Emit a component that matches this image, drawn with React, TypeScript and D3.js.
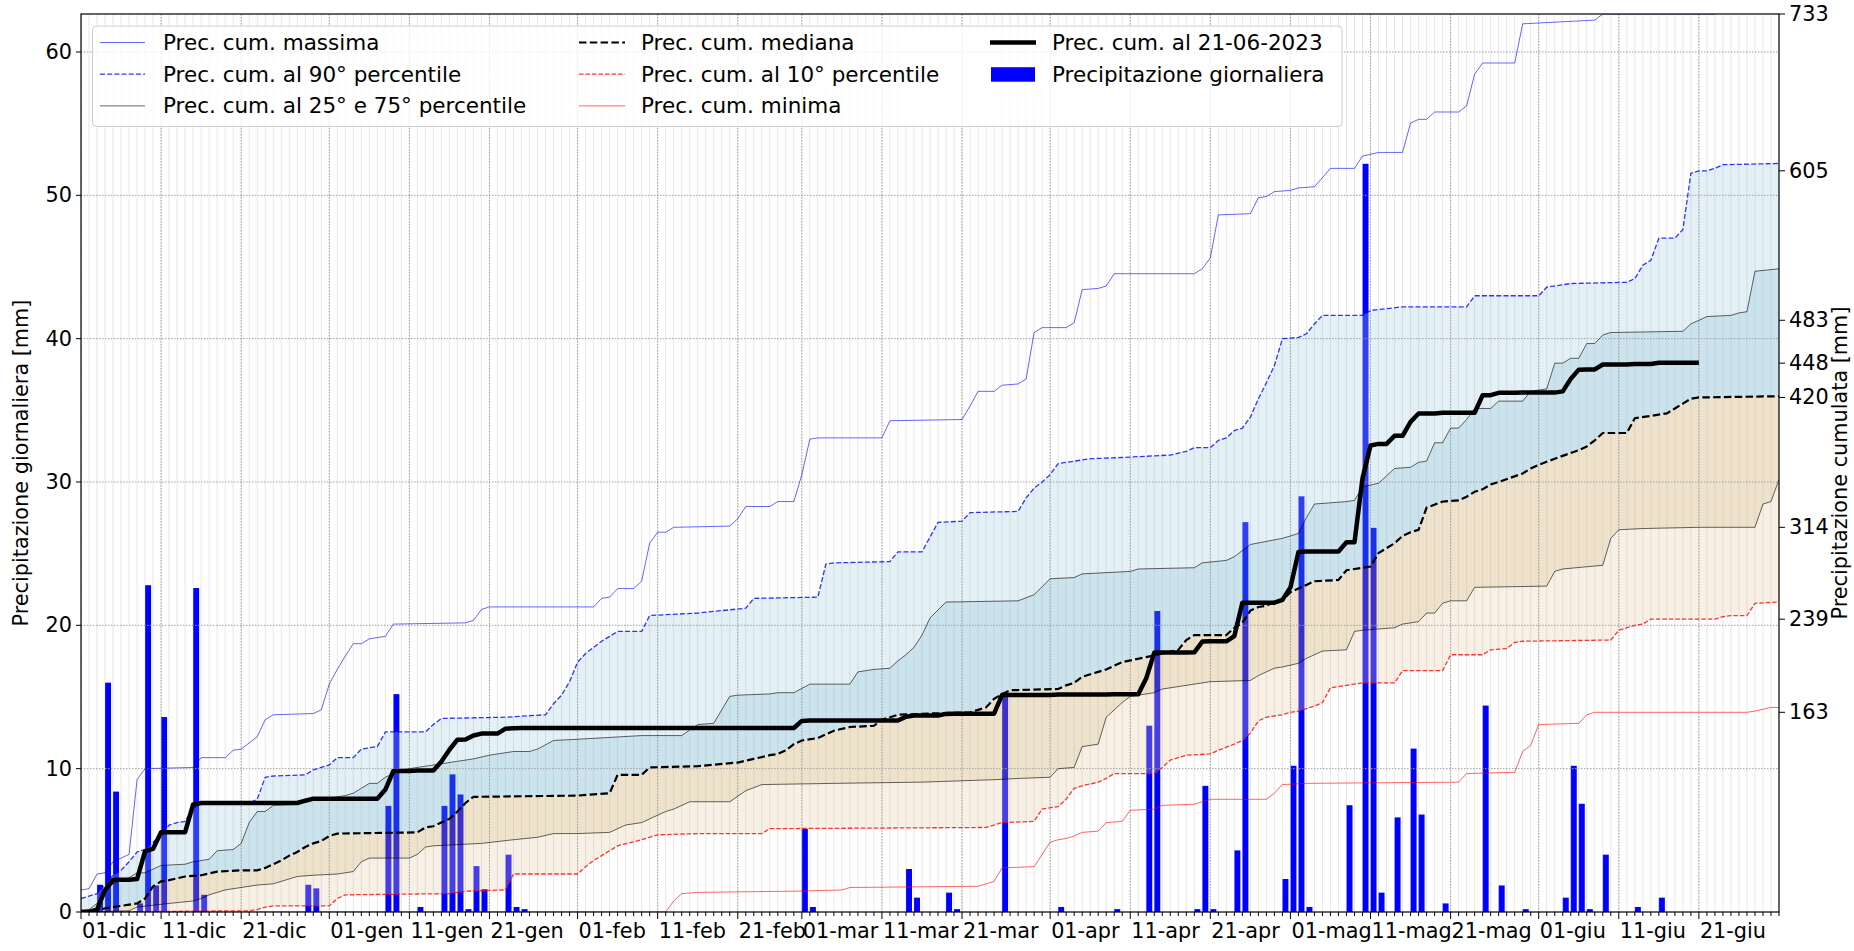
import * as d3 from 'd3';

const W = 1854;
const H = 951;
const PL = 81, PR = 1779, PT = 14, PB = 912;

const START = new Date(2022, 11, 1);
const LAST_DAY = 212; // 01-lug
const CUR_END = 202; // 21-giu
const MESI = ['gen', 'feb', 'mar', 'apr', 'mag', 'giu', 'lug', 'ago', 'set', 'ott', 'nov', 'dic'];

// [giorno dal 01-dic, mm]
const precGiornaliera: [number, number][] = [
  [2, 1.9], [3, 16.0], [4, 8.4], [7, 0.6], [8, 22.8], [9, 1.85], [10, 13.6], [14, 22.6], [15, 1.2],
  [28, 1.9], [29, 1.65], [38, 7.4], [39, 15.2], [42, 0.35], [45, 7.4], [46, 9.6], [47, 8.2], [48, 0.2],
  [49, 3.2], [50, 1.6], [53, 4.0], [54, 0.35], [55, 0.2], [90, 5.8], [91, 0.35], [103, 3.0], [104, 1.0],
  [108, 1.35], [109, 0.2], [115, 15.3], [122, 0.35], [129, 0.2], [133, 13.0], [134, 21.0], [139, 0.2],
  [140, 8.8], [141, 0.2], [144, 4.3], [145, 27.2], [150, 2.3], [151, 10.2], [152, 29.0], [153, 0.35],
  [158, 7.45], [160, 52.2], [161, 26.8], [162, 1.35], [164, 6.6], [166, 11.4], [167, 6.8], [170, 0.6],
  [175, 14.4], [177, 1.85], [180, 0.2], [185, 1.0], [186, 10.2], [187, 7.55], [188, 0.2], [190, 4.0],
  [194, 0.35], [197, 1.0],
];

const cumMassima: [number, number][] = [
  [0, 18], [1, 19], [2, 31], [3, 32], [4, 41], [5, 44], [6, 47], [7, 108], [8, 117], [14, 118], [15, 126],
  [18, 126], [19, 132], [20, 133], [21, 138], [22, 143], [23, 157], [24, 161], [29, 162], [30, 165],
  [31, 186], [32, 198], [33, 209], [34, 219], [35, 219], [36, 223], [38, 225], [39, 235], [48, 236],
  [49, 238], [50, 247], [51, 249], [64, 249], [65, 256], [66, 257], [67, 264], [69, 264], [70, 270],
  [71, 301], [72, 310], [73, 310], [74, 314], [81, 315], [82, 321], [83, 331], [86, 331], [87, 335],
  [89, 335], [90, 357], [91, 386], [92, 387], [100, 387], [101, 401], [110, 402], [111, 413], [112, 425],
  [114, 425], [115, 430], [117, 431], [118, 435], [119, 473], [120, 477], [123, 477], [124, 481],
  [125, 508], [127, 509], [128, 511], [129, 521], [139, 521], [140, 525], [141, 534], [142, 569],
  [146, 570], [147, 583], [148, 584], [149, 588], [151, 589], [152, 591], [154, 592], [156, 607],
  [159, 607], [160, 617], [162, 620], [165, 620], [166, 644], [167, 647], [168, 647], [169, 653],
  [172, 653], [173, 658], [174, 684], [175, 693], [179, 693], [180, 725], [189, 728], [190, 733], [204, 733],
];

const cum90: [number, number][] = [
  [0, 11], [1, 13], [2, 15], [3, 22], [4, 30], [5, 34], [6, 41], [7, 49], [8, 51], [9, 57], [10, 63],
  [11, 71], [12, 73], [13, 74], [14, 85], [15, 88], [21, 89], [22, 92], [23, 110], [24, 111], [28, 112],
  [29, 116], [30, 118], [31, 120], [32, 126], [34, 126], [35, 133], [37, 135], [38, 147], [43, 147],
  [44, 153], [45, 158], [53, 159], [58, 161], [59, 170], [60, 177], [61, 188], [62, 204], [63, 211],
  [64, 216], [65, 221], [66, 225], [67, 229], [70, 229], [71, 242], [77, 244], [83, 248], [84, 256],
  [92, 257], [93, 284], [94, 285], [101, 286], [102, 294], [105, 294], [107, 318], [110, 319], [111, 326],
  [117, 327], [118, 338], [119, 346], [120, 351], [121, 357], [122, 366], [123, 367], [126, 370],
  [130, 371], [133, 372], [136, 373], [138, 376], [139, 379], [141, 379], [142, 385], [143, 387],
  [144, 393], [145, 395], [146, 404], [147, 419], [148, 432], [149, 446], [150, 468], [152, 469],
  [153, 472], [154, 480], [155, 487], [160, 487], [161, 491], [165, 494], [173, 494], [174, 503],
  [182, 503], [183, 510], [186, 513], [193, 514], [194, 517], [195, 528], [196, 532], [197, 550],
  [199, 550], [200, 557], [201, 603], [202, 605], [203, 605], [204, 607], [205, 610], [212, 611],
];

const cum75: [number, number][] = [
  [0, 1], [1, 2], [2, 7], [3, 16], [4, 23], [5, 26], [6, 28], [7, 32], [8, 32], [9, 35], [10, 38],
  [13, 39], [14, 41], [15, 42], [16, 43], [17, 50], [19, 51], [20, 56], [21, 73], [22, 82], [23, 82],
  [24, 87], [27, 88], [28, 90], [30, 92], [32, 94], [33, 95], [34, 97], [35, 101], [36, 105], [37, 105],
  [38, 110], [39, 113], [40, 116], [41, 117], [43, 119], [45, 121], [47, 123], [49, 125], [51, 128],
  [54, 131], [56, 131], [57, 133], [59, 140], [62, 141], [70, 144], [75, 144], [77, 153], [79, 154],
  [81, 176], [82, 177], [86, 178], [87, 179], [89, 179], [91, 186], [96, 186], [97, 196], [99, 198],
  [101, 199], [102, 205], [103, 210], [104, 216], [105, 226], [106, 240], [108, 253], [117, 254],
  [119, 259], [121, 272], [124, 273], [125, 276], [131, 278], [132, 280], [139, 281], [140, 285],
  [143, 287], [144, 290], [145, 295], [146, 300], [150, 305], [152, 309], [153, 322], [154, 333],
  [158, 335], [159, 336], [160, 347], [162, 350], [163, 356], [164, 362], [166, 363], [167, 367],
  [168, 368], [169, 383], [170, 383], [171, 395], [172, 395], [173, 402], [174, 411], [176, 411],
  [177, 417], [180, 417], [181, 425], [182, 426], [183, 427], [184, 448], [185, 448], [186, 452],
  [187, 452], [188, 464], [189, 464], [190, 471], [191, 473], [200, 474], [201, 480], [202, 483],
  [203, 486], [206, 487], [207, 489], [208, 490], [209, 523], [212, 525],
];

const cumMediana: [number, number][] = [
  [0, 1], [2, 1], [3, 3], [6, 6], [7, 7], [8, 11], [9, 21], [10, 25], [11, 26], [13, 29], [15, 30],
  [17, 33], [20, 34], [22, 34], [23, 36], [24, 39], [25, 42], [26, 46], [27, 49], [28, 53], [29, 56],
  [30, 58], [31, 62], [32, 64], [42, 65], [43, 69], [44, 70], [45, 73], [46, 76], [47, 82], [48, 89],
  [49, 94], [62, 95], [66, 97], [67, 112], [70, 112], [71, 118], [77, 119], [82, 122], [84, 125],
  [86, 128], [87, 129], [88, 132], [89, 137], [90, 140], [92, 142], [93, 145], [94, 148], [96, 151],
  [99, 152], [100, 157], [102, 161], [106, 162], [111, 163], [112, 165], [113, 167], [114, 174],
  [115, 178], [116, 181], [122, 182], [123, 185], [124, 187], [125, 192], [127, 196], [128, 198],
  [129, 201], [130, 204], [133, 208], [137, 214], [138, 222], [139, 226], [143, 226], [144, 232],
  [145, 236], [146, 246], [147, 249], [148, 250], [149, 253], [150, 254], [151, 261], [152, 264],
  [153, 267], [154, 270], [157, 271], [158, 279], [161, 282], [162, 293], [163, 297], [164, 301],
  [165, 307], [166, 310], [167, 312], [168, 330], [170, 335], [172, 336], [173, 339], [174, 343],
  [175, 345], [176, 349], [177, 351], [180, 358], [181, 362], [182, 365], [184, 370], [187, 377],
  [188, 380], [189, 385], [190, 391], [193, 391], [194, 403], [198, 407], [199, 411], [200, 415],
  [201, 419], [202, 420], [212, 421],
];

const cum25: [number, number][] = [
  [0, 0], [6, 1], [7, 4], [11, 7], [14, 9], [15, 11], [16, 14], [18, 18], [20, 20], [22, 22], [24, 23],
  [25, 25], [26, 27], [27, 29], [29, 30], [32, 31], [34, 33], [35, 41], [36, 44], [41, 44], [42, 47],
  [43, 53], [44, 54], [50, 56], [54, 59], [57, 61], [59, 64], [62, 64], [66, 65], [68, 71], [70, 73],
  [72, 79], [73, 82], [74, 84], [76, 90], [81, 90], [83, 99], [85, 104], [94, 105], [105, 106],
  [114, 108], [117, 109], [121, 110], [122, 117], [124, 118], [125, 135], [127, 137], [128, 159],
  [129, 165], [130, 171], [131, 176], [134, 179], [135, 182], [141, 188], [146, 189], [147, 193],
  [148, 196], [149, 199], [150, 200], [152, 203], [153, 207], [155, 213], [158, 214], [159, 229],
  [160, 230], [164, 232], [165, 235], [167, 237], [168, 244], [169, 244], [170, 252], [171, 254],
  [173, 254], [174, 265], [183, 266], [184, 278], [185, 280], [190, 283], [191, 305], [192, 312],
  [195, 313], [202, 314], [209, 314], [210, 333], [211, 335], [212, 353],
];

const cum10: [number, number][] = [
  [0, 0], [21, 1], [22, 2], [23, 4], [24, 5], [31, 5], [32, 11], [33, 14], [46, 15], [47, 16], [48, 17],
  [53, 18], [54, 31], [62, 31], [63, 37], [64, 42], [65, 46], [66, 50], [67, 54], [70, 59], [71, 61],
  [72, 63], [77, 64], [85, 64], [86, 68], [113, 69], [114, 71], [115, 73], [119, 74], [120, 84],
  [122, 86], [123, 92], [124, 101], [125, 103], [127, 106], [128, 109], [129, 113], [134, 113],
  [135, 118], [136, 124], [138, 128], [141, 129], [142, 132], [144, 137], [145, 140], [146, 146],
  [147, 156], [148, 159], [150, 161], [151, 163], [152, 164], [154, 168], [155, 171], [156, 183],
  [160, 187], [164, 187], [165, 197], [170, 197], [171, 210], [175, 210], [176, 214], [178, 215],
  [179, 220], [180, 221], [191, 222], [192, 230], [194, 234], [195, 235], [196, 239], [204, 239],
  [205, 241], [206, 242], [208, 242], [209, 252], [212, 253],
];

const cumMinima: [number, number][] = [
  [0, 0], [73, 0], [74, 9], [75, 15], [77, 16], [89, 17], [95, 18], [96, 20], [112, 21], [113, 23],
  [114, 25], [115, 36], [119, 37], [120, 47], [121, 57], [122, 59], [123, 60], [124, 62], [125, 65],
  [127, 66], [128, 73], [130, 74], [131, 83], [134, 84], [135, 87], [139, 88], [140, 90], [141, 92],
  [148, 92], [149, 97], [150, 104], [153, 105], [172, 106], [173, 113], [179, 114], [180, 131],
  [181, 136], [182, 153], [187, 154], [188, 161], [189, 163], [208, 163], [209, 164], [211, 167], [212, 167],
];

const yTicksL = [0, 10, 20, 30, 40, 50, 60];
const yTicksR = [163, 239, 314, 420, 448, 483, 605, 733];

const x = d3.scaleLinear().domain([0, LAST_DAY]).range([PL, PR]);
const yL = d3.scaleLinear().domain([0, 62.65]).range([PB, PT]);
const yR = d3.scaleLinear().domain([0, 733]).range([PB, PT]);

const FONT = 'DejaVu Sans, sans-serif';

const line = d3.line<[number, number]>().x(d => x(d[0])).y(d => yR(d[1]));

function band(lo: [number, number][], hi: [number, number][]) {
  const pts = hi.concat(lo.slice().reverse());
  return line(pts) + 'Z';
}

function dayLabel(d: number) {
  const dt = d3.timeDay.offset(START, d);
  return `${String(dt.getDate()).padStart(2, '0')}-${MESI[dt.getMonth()]}`;
}

export default function App() {
  const days = d3.range(0, LAST_DAY + 1);
  const majorDays = days.filter(d => [1, 11, 21].includes(d3.timeDay.offset(START, d).getDate()) && d < LAST_DAY);

  // cumulata dell'anno corrente
  const precMap = new Map(precGiornaliera);
  let acc = 0;
  const cumCorrente: [number, number][] = d3.range(0, CUR_END + 1).map(d => {
    acc += precMap.get(d) ?? 0;
    return [d, acc];
  });

  const barW = x(0.75) - x(0);

  const legendRows = [42.5, 74.2, 105.9];
  const legendCols = [{ h0: 100, h1: 145, t: 163 }, { h0: 579, h1: 625, t: 641 }, { h0: 990, h1: 1036, t: 1052 }];
  type Item = { label: string; stroke?: string; width?: number; dash?: string; opacity?: number; patch?: boolean };
  const legendItems: Item[][] = [
    [
      { label: 'Prec. cum. massima', stroke: '#0000ff', width: 1, opacity: 0.6 },
      { label: 'Prec. cum. al 90° percentile', stroke: '#0000ff', width: 1.3, dash: '5,2.2', opacity: 0.8 },
      { label: 'Prec. cum. al 25° e 75° percentile', stroke: '#000', width: 1, opacity: 0.6 },
    ],
    [
      { label: 'Prec. cum. mediana', stroke: '#000', width: 2.2, dash: '7.5,3.3' },
      { label: 'Prec. cum. al 10° percentile', stroke: '#ff0000', width: 1.3, dash: '4.5,2', opacity: 0.8 },
      { label: 'Prec. cum. minima', stroke: '#ff0000', width: 1, opacity: 0.6 },
    ],
    [
      { label: 'Prec. cum. al 21-06-2023', stroke: '#000', width: 4.5 },
      { label: 'Precipitazione giornaliera', patch: true },
    ],
  ];

  return (
    <svg width={W} height={H} style={{ display: 'block', position: 'absolute', left: 0, top: 0, background: '#fff' }}
      fontFamily={FONT}>
      <defs>
        <clipPath id="plot">
          <rect x={PL} y={PT} width={PR - PL} height={PB - PT} />
        </clipPath>
      </defs>
      <rect width={W} height={H} fill="#fff" />

      <g clipPath="url(#plot)">
        {/* barre precipitazione giornaliera */}
        {precGiornaliera.map(([d, v]) => (
          <rect key={d} x={x(d)} y={yL(v)} width={barW} height={yL(0) - yL(v)} fill="#0000ff" />
        ))}

        {/* bande percentili */}
        <path d={band(cum75, cum90)} fill="rgb(162,205,225)" fillOpacity={0.3} />
        <path d={band(cumMediana, cum75)} fill="rgb(82,162,195)" fillOpacity={0.3} />
        <path d={band(cum25, cumMediana)} fill="rgb(198,158,82)" fillOpacity={0.3} />
        <path d={band(cum10, cum25)} fill="rgb(235,205,168)" fillOpacity={0.3} />

        {/* griglia */}
        {days.map(d => (
          <line key={'m' + d} x1={x(d)} x2={x(d)} y1={PT} y2={PB} stroke="#b0b0b0" strokeOpacity={0.3} strokeWidth={1} />
        ))}
        {majorDays.map(d => (
          <line key={'M' + d} x1={x(d)} x2={x(d)} y1={PT} y2={PB} stroke="#a0a0a0" strokeWidth={1} strokeDasharray="1.5,1.5" />
        ))}
        {yTicksL.slice(1).map(v => (
          <line key={'h' + v} x1={PL} x2={PR} y1={yL(v)} y2={yL(v)} stroke="#a0a0a0" strokeWidth={1} strokeDasharray="1.5,1.5" />
        ))}

        {/* curve cumulate */}
        <path d={line(cumMinima)!} fill="none" stroke="#ff0000" strokeOpacity={0.6} strokeWidth={1} />
        <path d={line(cum10)!} fill="none" stroke="#ff0000" strokeOpacity={0.8} strokeWidth={1.3} strokeDasharray="4.5,2" />
        <path d={line(cum25)!} fill="none" stroke="#000" strokeOpacity={0.6} strokeWidth={1} />
        <path d={line(cum75)!} fill="none" stroke="#000" strokeOpacity={0.6} strokeWidth={1} />
        <path d={line(cumMediana)!} fill="none" stroke="#000" strokeWidth={2.2} strokeDasharray="7.5,3.3" />
        <path d={line(cum90)!} fill="none" stroke="#0000ff" strokeOpacity={0.8} strokeWidth={1.3} strokeDasharray="5,2.2" />
        <path d={line(cumMassima)!} fill="none" stroke="#0000ff" strokeOpacity={0.6} strokeWidth={1} />
        <path d={line(cumCorrente)!} fill="none" stroke="#000" strokeWidth={4.5} strokeLinejoin="round" />
      </g>

      {/* legenda */}
      <rect x={92.5} y={26} width={1249.5} height={100.5} rx={4} fill="#fff" fillOpacity={0.8} stroke="#cccccc" />
      {legendItems.map((col, ci) => col.map((it, ri) => {
        const c = legendCols[ci];
        const yy = legendRows[ri];
        return (
          <g key={ci + '-' + ri}>
            {it.patch
              ? <rect x={c.h0 + 1} y={yy - 7} width={c.h1 - c.h0 - 2} height={14.5} fill="#0000ff" />
              : <line x1={c.h0} x2={c.h1} y1={yy} y2={yy} stroke={it.stroke} strokeWidth={it.width}
                  strokeOpacity={it.opacity ?? 1} strokeDasharray={it.dash} />}
            <text x={c.t} y={yy} dominantBaseline="central" fontSize={21.5} fill="#000">{it.label}</text>
          </g>
        );
      }))}

      {/* assi */}
      <rect x={PL} y={PT} width={PR - PL} height={PB - PT} fill="none" stroke="#000" strokeWidth={1.2} />
      {days.map(d => {
        const major = majorDays.includes(d);
        return <line key={'t' + d} x1={x(d)} x2={x(d)} y1={PB} y2={PB + (major ? 7 : 4)} stroke="#000" strokeWidth={1} />;
      })}
      {majorDays.map(d => (
        <text key={'l' + d} x={x(d) + 1} y={938} fontSize={20.8} fill="#000">{dayLabel(d)}</text>
      ))}
      {yTicksL.map(v => (
        <g key={'yl' + v}>
          <line x1={PL - 5} x2={PL} y1={yL(v)} y2={yL(v)} stroke="#000" />
          <text x={PL - 9} y={yL(v)} textAnchor="end" dominantBaseline="central" fontSize={20.8}>{v}</text>
        </g>
      ))}
      {yTicksR.map(v => (
        <g key={'yr' + v}>
          <line x1={PR} x2={PR + 6} y1={yR(v)} y2={yR(v)} stroke="#000" />
          <text x={PR + 10} y={yR(v)} dominantBaseline="central" fontSize={20.8}>{v}</text>
        </g>
      ))}
      <text transform={`translate(21,${(PT + PB) / 2}) rotate(-90)`} textAnchor="middle" dominantBaseline="central" fontSize={20.8}>
        Precipitazione giornaliera [mm]
      </text>
      <text transform={`translate(1840,${(PT + PB) / 2}) rotate(-90)`} textAnchor="middle" dominantBaseline="central" fontSize={20.8}>
        Precipitazione cumulata [mm]
      </text>
    </svg>
  );
}
